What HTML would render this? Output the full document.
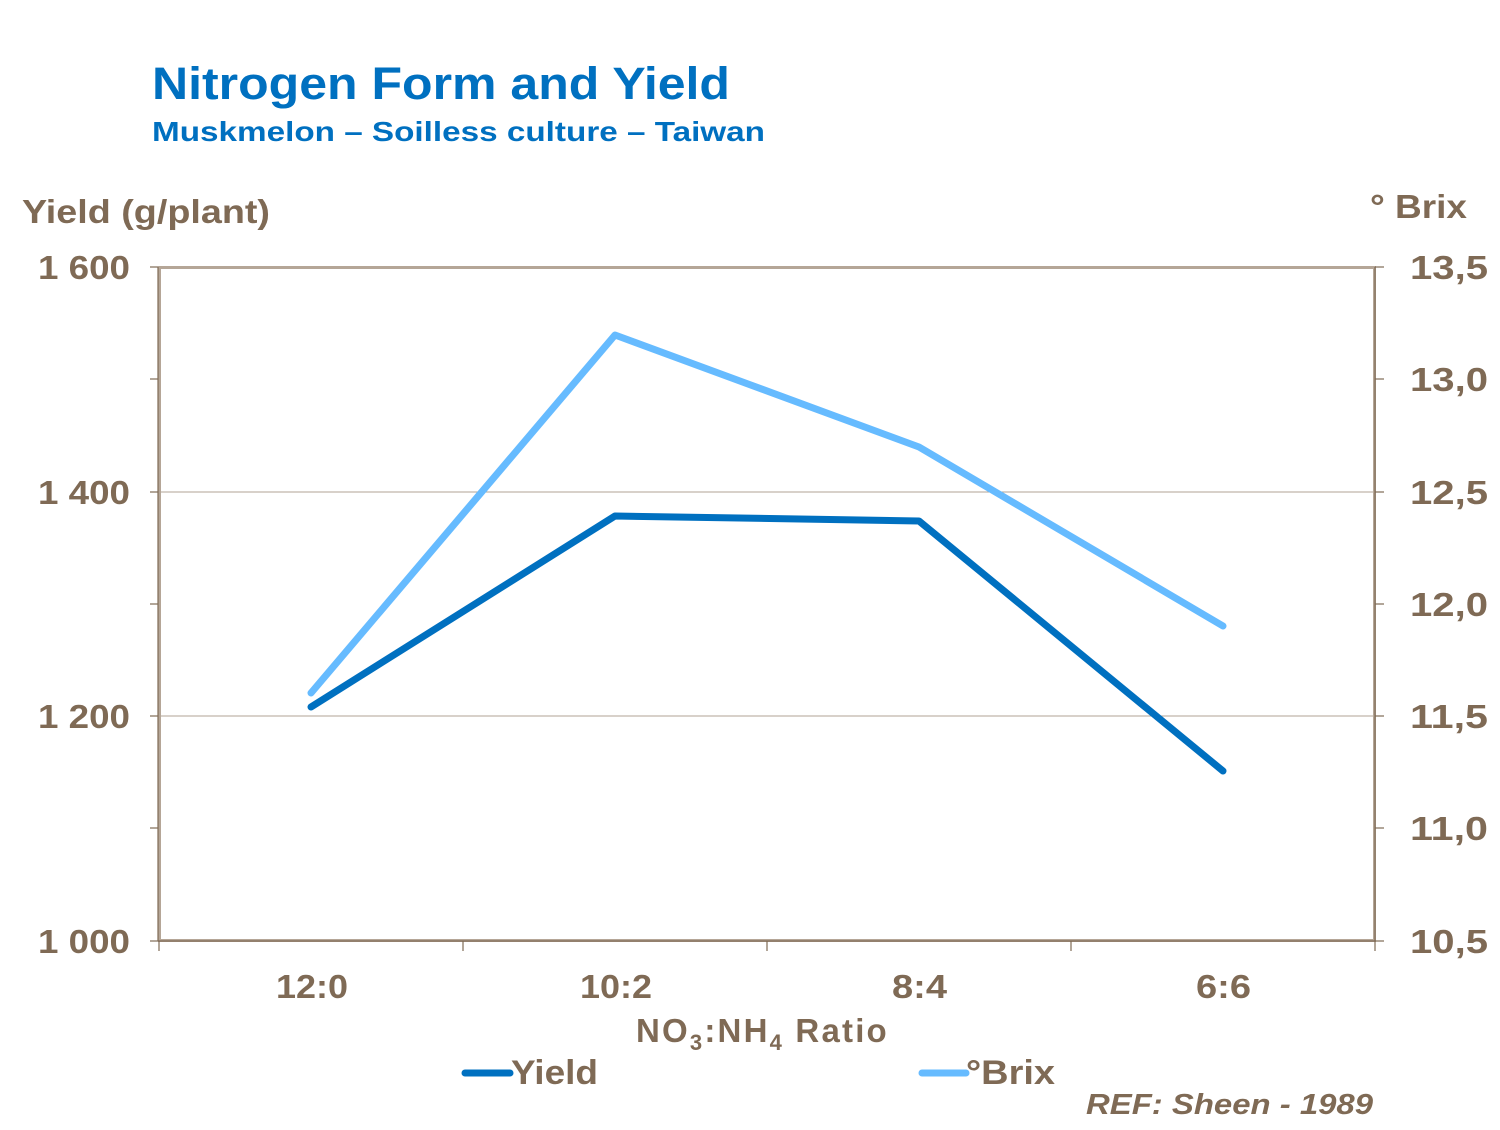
<!DOCTYPE html>
<html><head><style>body{margin:0;background:#fff}</style></head><body>
<svg width="1500" height="1125" xmlns="http://www.w3.org/2000/svg" font-family="Liberation Sans, Arial, sans-serif">
<rect width="1500" height="1125" fill="#fff"/>
<text x="152" y="99" font-size="45" font-weight="bold" fill="#0070c0" textLength="578" lengthAdjust="spacingAndGlyphs">Nitrogen Form and Yield</text>
<text x="152" y="141" font-size="28" font-weight="bold" fill="#0070c0" textLength="613" lengthAdjust="spacingAndGlyphs">Muskmelon – Soilless culture – Taiwan</text>
<text x="22" y="223" font-size="33" font-weight="bold" fill="#7f6a55" textLength="248" lengthAdjust="spacingAndGlyphs">Yield (g/plant)</text>
<text x="1370" y="218" font-size="33" font-weight="bold" fill="#7f6a55" textLength="97" lengthAdjust="spacingAndGlyphs">° Brix</text>
<g stroke="#b0a395" stroke-width="1"><line x1="159" y1="492" x2="1374" y2="492"/><line x1="159" y1="716" x2="1374" y2="716"/></g>
<rect x="159.5" y="267.5" width="1215" height="673" fill="none" stroke="#b5a697" stroke-width="3"/>
<g stroke="#7f6a55" stroke-width="1.2">
<line x1="158" y1="267" x2="158" y2="941"/><line x1="1375" y1="267" x2="1375" y2="941"/>
<line x1="158" y1="941" x2="1375" y2="941"/>
<line x1="150" y1="267" x2="158" y2="267"/><line x1="150" y1="379" x2="158" y2="379"/><line x1="150" y1="492" x2="158" y2="492"/><line x1="150" y1="604" x2="158" y2="604"/><line x1="150" y1="716" x2="158" y2="716"/><line x1="150" y1="828" x2="158" y2="828"/><line x1="150" y1="941" x2="158" y2="941"/>
<line x1="1375" y1="267" x2="1384" y2="267"/><line x1="1375" y1="379" x2="1384" y2="379"/><line x1="1375" y1="492" x2="1384" y2="492"/><line x1="1375" y1="604" x2="1384" y2="604"/><line x1="1375" y1="716" x2="1384" y2="716"/><line x1="1375" y1="828" x2="1384" y2="828"/><line x1="1375" y1="941" x2="1384" y2="941"/>
<line x1="159" y1="941" x2="159" y2="951"/><line x1="463" y1="941" x2="463" y2="951"/><line x1="767" y1="941" x2="767" y2="951"/><line x1="1071" y1="941" x2="1071" y2="951"/><line x1="1375" y1="941" x2="1375" y2="951"/>
</g>
<g font-size="33" font-weight="bold" fill="#7f6a55">
<text x="38" y="279" textLength="92" lengthAdjust="spacingAndGlyphs">1 600</text><text x="38" y="504" textLength="92" lengthAdjust="spacingAndGlyphs">1 400</text><text x="38" y="728" textLength="92" lengthAdjust="spacingAndGlyphs">1 200</text><text x="38" y="953" textLength="92" lengthAdjust="spacingAndGlyphs">1 000</text>
</g>
<g font-size="33" font-weight="bold" fill="#7f6a55">
<text x="1410" y="279" textLength="78" lengthAdjust="spacingAndGlyphs">13,5</text><text x="1410" y="391" textLength="78" lengthAdjust="spacingAndGlyphs">13,0</text><text x="1410" y="504" textLength="78" lengthAdjust="spacingAndGlyphs">12,5</text><text x="1410" y="616" textLength="78" lengthAdjust="spacingAndGlyphs">12,0</text><text x="1410" y="728" textLength="78" lengthAdjust="spacingAndGlyphs">11,5</text><text x="1410" y="840" textLength="78" lengthAdjust="spacingAndGlyphs">11,0</text><text x="1410" y="953" textLength="78" lengthAdjust="spacingAndGlyphs">10,5</text>
</g>
<g font-size="33" font-weight="bold" fill="#7f6a55">
<text x="276" y="998" textLength="72" lengthAdjust="spacingAndGlyphs">12:0</text><text x="580" y="998" textLength="72" lengthAdjust="spacingAndGlyphs">10:2</text><text x="892" y="998" textLength="55" lengthAdjust="spacingAndGlyphs">8:4</text><text x="1196" y="998" textLength="55" lengthAdjust="spacingAndGlyphs">6:6</text>
<text x="636" y="1042" letter-spacing="2.2">NO<tspan font-size="22" dy="8">3</tspan><tspan dy="-8">:NH</tspan><tspan font-size="22" dy="8">4</tspan><tspan dy="-8"> Ratio</tspan></text>
</g>
<polyline points="311,693 615,335 919,447 1223,626" fill="none" stroke="#66bbff" stroke-width="7" stroke-linejoin="round" stroke-linecap="round"/>
<polyline points="311,707 615,516 919,521 1223,771" fill="none" stroke="#0070c0" stroke-width="7" stroke-linejoin="round" stroke-linecap="round"/>
<line x1="465" y1="1073" x2="510" y2="1073" stroke="#0070c0" stroke-width="7" stroke-linecap="round"/>
<text x="511" y="1084" font-size="34" font-weight="bold" fill="#7f6a55" textLength="87" lengthAdjust="spacingAndGlyphs">Yield</text>
<line x1="922" y1="1073" x2="966" y2="1073" stroke="#66bbff" stroke-width="7" stroke-linecap="round"/>
<text x="966" y="1084" font-size="34" font-weight="bold" fill="#7f6a55" textLength="89" lengthAdjust="spacingAndGlyphs">°Brix</text>
<text x="1086" y="1114" font-size="29" font-weight="bold" font-style="italic" fill="#7f6a55" textLength="287" lengthAdjust="spacingAndGlyphs">REF: Sheen - 1989</text>
</svg>
</body></html>
